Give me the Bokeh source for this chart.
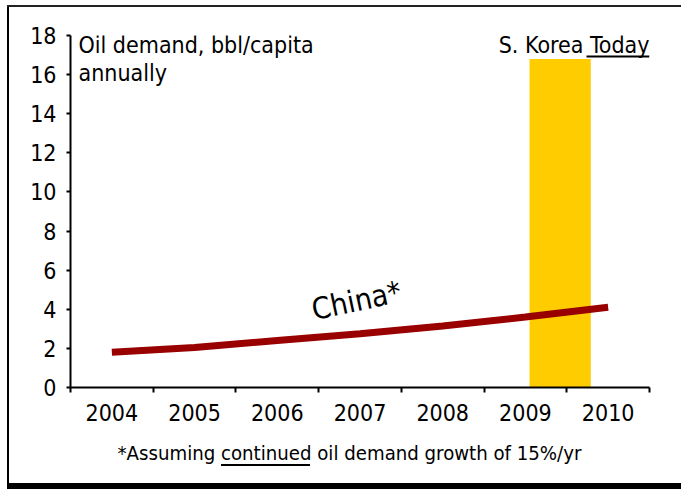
from bokeh.plotting import figure
from bokeh.models import Label, BoxAnnotation, FixedTicker, Title
from bokeh.embed import file_html
from bokeh.resources import INLINE

# ---- data ----
years = [2004, 2005, 2006, 2007, 2008, 2009, 2010]
year_labels = ["2004", "2005", "2006", "2007", "2008", "2009", "2010"]
china_demand = [1.8, 2.05, 2.4, 2.75, 3.15, 3.6, 4.1]
korea_today = [16.8]
y_ticks = [0, 2, 4, 6, 8, 10, 12, 14, 16, 18]

FONT = "DejaVu Sans Condensed"

W, H = 681, 489
FL, FR, FT, FB = 70, 649, 35, 387  # frame pixel edges
XMIN, XMAX = 2003.5, 2010.5
YMIN, YMAX = 0, 18


def dx(px):
    return XMIN + (px - FL) * (XMAX - XMIN) / (FR - FL)


def dy(py):
    return YMIN + (FB - py) * (YMAX - YMIN) / (FB - FT)


p = figure(width=W, height=H, x_range=(XMIN, XMAX), y_range=(YMIN, YMAX),
           output_backend="svg", toolbar_location=None,
           min_border_left=FL, min_border_right=W - FR,
           min_border_top=FT, min_border_bottom=H - FB)
p.outline_line_color = None
p.grid.visible = False
p.background_fill_color = "white"
p.border_fill_color = None

# outer frame and footnote underline drawn as CSS backgrounds of the host
def grad(color, x, y, w, h):
    return f"linear-gradient({color},{color}) {x}px {y}px / {w}px {h}px no-repeat"

p.styles = {"background": ", ".join([
    grad("#222222", 7, 5, 674, 2),
    grad("#000000", 7, 5, 2, 479),
    grad("#000000", 7, 483, 674, 6),
    grad("#000000", 221, 464, 89, 2),
]) + ", #ffffff"}

# y axis
p.yaxis.ticker = FixedTicker(ticks=y_ticks)
p.yaxis.axis_line_width = 2
p.yaxis.axis_line_color = "black"
p.yaxis.major_tick_out = 4
p.yaxis.major_tick_in = 0
p.yaxis.major_tick_line_width = 2
p.yaxis.minor_tick_line_color = None
p.yaxis.major_label_text_font = FONT
p.yaxis.major_label_text_font_size = "23px"
p.yaxis.major_label_text_color = "black"
p.yaxis.major_label_standoff = 10

# x axis
p.xaxis.ticker = FixedTicker(ticks=years, minor_ticks=[y - 0.5 for y in years] + [years[-1] + 0.5])
p.xaxis.major_label_overrides = {y: l for y, l in zip(years, year_labels)}
p.xaxis.axis_line_width = 2
p.xaxis.axis_line_color = "black"
p.xaxis.major_tick_line_color = None
p.xaxis.minor_tick_out = 5
p.xaxis.minor_tick_in = 0
p.xaxis.minor_tick_line_width = 2
p.xaxis.minor_tick_line_color = "black"
p.xaxis.major_label_text_font = FONT
p.xaxis.major_label_text_font_size = "23px"
p.xaxis.major_label_text_color = "black"
p.xaxis.major_label_standoff = 10

# footnote
foot = Title(text="*Assuming continued oil demand growth of 15%/yr", align="left",
             text_font=FONT, text_font_size="20.2px", text_font_style="normal",
             text_color="black", standoff=30, offset=47)
p.add_layout(foot, "below")

# S. Korea today bar
p.vbar(x=[2009.42], top=korea_today, width=0.74, color="#FFCC00", line_color=None)

# China line
p.line(years, china_demand, line_width=7, line_color="#990000")

# texts
def lab(text, px, py, size, align="left", baseline="alphabetic", angle=0):
    l = Label(x=dx(px), y=dy(py), text=text, text_font=FONT, text_font_size=size,
              text_color="black", text_align=align, text_baseline=baseline,
              angle=angle, angle_units="deg")
    p.add_layout(l)

lab("Oil demand, bbl/capita", 78, 44, "23px")
lab("annually", 78, 72, "23px")
lab("S. Korea Today", 649, 44, "23px", align="right")
lab("China*", 356, 300, "30px", align="center", baseline="middle", angle=12)

# "Today" underline (inside the frame)
p.add_layout(BoxAnnotation(left=dx(586), right=dx(649), top=dy(55), bottom=dy(57),
                           fill_color="black", fill_alpha=1.0, line_color=None, level="overlay"))

open("out.html", "w").write(file_html(p, INLINE))
